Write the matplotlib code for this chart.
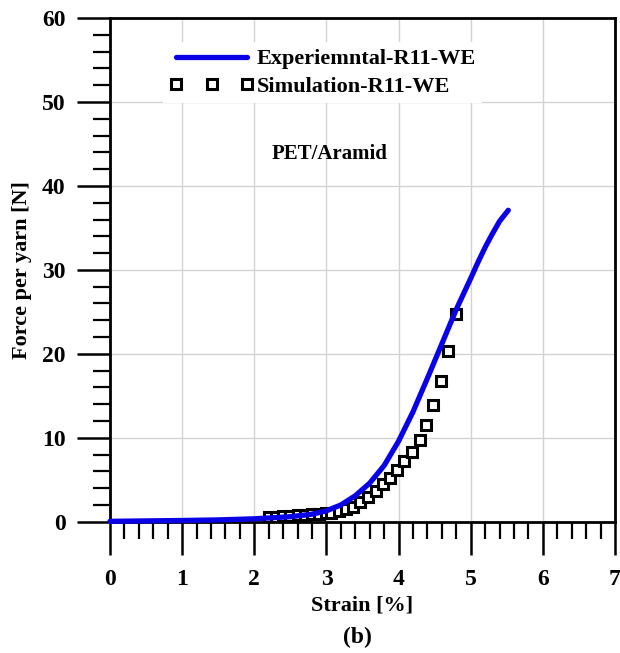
import matplotlib
matplotlib.use("Agg")
import matplotlib.pyplot as plt
from matplotlib.ticker import MultipleLocator

plt.rcParams['font.family'] = ['Liberation Serif', 'DejaVu Serif']
plt.rcParams['font.weight'] = 'bold'

# Experimental curve
exp_strain = [0.0, 0.5, 1.0, 1.5, 2.0, 2.5, 2.8, 3.0, 3.2, 3.4, 3.6, 3.8, 4.0, 4.2, 4.4,
              4.6, 4.8, 5.0, 5.1, 5.2, 5.3, 5.4, 5.52]
exp_force = [0.05, 0.1, 0.15, 0.22, 0.35, 0.6, 0.9, 1.3, 2.0, 3.1, 4.6, 6.7, 9.6, 13.1, 17.1,
             21.2, 25.3, 29.0, 30.9, 32.7, 34.3, 35.8, 37.1]

# Simulation points
sim_strain = [2.2, 2.3, 2.4, 2.5, 2.6, 2.7, 2.8, 2.9,
              3.0, 3.07, 3.17, 3.27, 3.37, 3.47, 3.57, 3.68, 3.78, 3.88, 3.98, 4.08, 4.18,
              4.29, 4.38, 4.48, 4.59, 4.69, 4.79]
sim_force = [0.55, 0.6, 0.66, 0.72, 0.78, 0.84, 0.9, 0.95,
             1.0, 1.07, 1.3, 1.55, 1.8, 2.4, 3.0, 3.65, 4.5, 5.2, 6.2, 7.2, 8.3,
             9.7, 11.5, 13.9, 16.8, 20.3, 24.7]

fig = plt.figure(figsize=(6.2, 6.53), dpi=100)
ax = fig.add_axes([0.1774, 0.201, 0.8146, 0.7714])

ax.plot(exp_strain, exp_force, color='#0a00e6', lw=3.8, solid_capstyle='round',
        label='Experiemntal-R11-WE', zorder=4, clip_on=False)
ax.plot(sim_strain, sim_force, ls='none', marker='s', ms=6.5, mfc='white', mec='black',
        mew=2.2, label='Simulation-R11-WE', zorder=3)

ax.set_xlim(0, 7)
ax.set_ylim(0, 60)
ax.xaxis.set_major_locator(MultipleLocator(1))
ax.xaxis.set_minor_locator(MultipleLocator(0.2))
ax.yaxis.set_major_locator(MultipleLocator(10))
ax.yaxis.set_minor_locator(MultipleLocator(2))
ax.tick_params(which='major', direction='out', length=24, width=1.8, labelsize=17, pad=8)
ax.tick_params(axis='x', which='major', pad=10)
ax.tick_params(which='minor', direction='out', length=12, width=1.6)
for s in ax.spines.values():
    s.set_linewidth(2.0)

ax.grid(True, which='major', color='#d2d2d2', lw=1.0, zorder=0)
ax.set_axisbelow(True)

ax.set_xlabel('Strain [%]', fontsize=16, fontweight='bold', labelpad=4)
ax.set_ylabel('Force per yarn [N]', fontsize=16, fontweight='bold', labelpad=7)

leg = ax.legend(loc='upper left', bbox_to_anchor=(0.083, 0.974), frameon=True, fancybox=False,
                edgecolor='none', facecolor='white', framealpha=1, fontsize=16,
                handlelength=3.8, handletextpad=0.1, numpoints=3, borderpad=0.3,
                labelspacing=0.3)
for t in leg.get_texts():
    t.set_fontweight('bold')

ax.text(3.05, 43.8, 'PET/Aramid', fontsize=15, fontweight='bold', ha='center', va='center')
fig.text(0.576, 0.024, '(b)', fontsize=17, fontweight='bold', ha='center', va='center')

fig.savefig('out.png', dpi=100)
